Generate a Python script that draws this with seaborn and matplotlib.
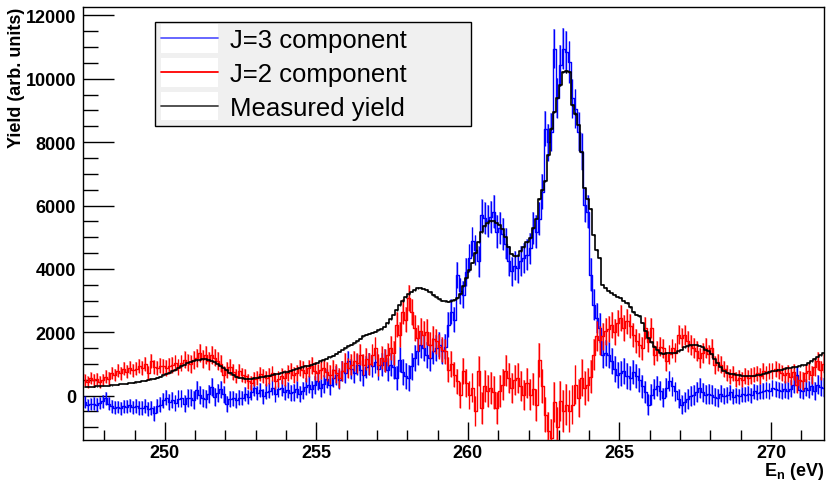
import numpy as np
import pandas as pd
import matplotlib
matplotlib.use("Agg")
import matplotlib.pyplot as plt
import seaborn as sns
from matplotlib.lines import Line2D
from matplotlib.patches import Rectangle
from matplotlib.legend_handler import HandlerBase

# Neutron energy binning (eV)
e_start = 247.3
bin_width = 0.1

# Measured yield per bin (arb. units)
measured = [
    270, 275, 280, 285, 290, 295, 300,
    300, 310, 320, 340, 350, 360, 370, 380, 395, 410,
    420, 440, 455, 470, 490, 510, 540, 570, 600, 640,
    690, 730, 770, 820, 870, 930, 980, 1030, 1070, 1100,
    1120, 1140, 1150, 1150, 1130, 1100, 1050, 990, 930, 870,
    800, 730, 660, 600, 570, 550, 540, 540, 540, 550,
    560, 575, 590, 610, 630, 650, 670, 690, 710, 740,
    760, 790, 810, 840, 860, 890, 920, 950, 980, 1010,
    1040, 1080, 1120, 1160, 1210, 1260, 1320, 1380, 1440, 1500,
    1560, 1610, 1660, 1720, 1800, 1880, 1920, 1960, 1990, 2020,
    2060, 2100, 2180, 2290, 2420, 2560, 2700, 2850, 2990, 3110,
    3200, 3280, 3340, 3390, 3400, 3380, 3330, 3260, 3180, 3100,
    3040, 3000, 2980, 2970, 2990, 3020, 3080, 3200, 3450, 3700,
    3970, 4200, 4500, 4850, 5150, 5350, 5450, 5500, 5500, 5460,
    5390, 5250, 5000, 4700, 4480, 4400, 4420, 4560, 4700, 4850,
    4960, 5300, 5590, 6220, 6500, 6760, 7600, 8430, 8960, 9400,
    9800, 10220, 10230, 10220, 9170, 8900, 8540, 7700, 6540, 6200,
    5900, 5080, 4600, 4340, 3500, 3400, 3300, 3230, 3180, 3120,
    3080, 3000, 2920, 2800, 2640, 2550, 2510, 2300, 2050, 1820,
    1680, 1550, 1440, 1340, 1320, 1330, 1350, 1340, 1360, 1400,
    1450, 1520, 1560, 1590, 1610, 1600, 1570, 1520, 1450, 1400,
    1300, 1150, 1030, 900, 780, 720, 690, 670, 650, 640,
    625, 620, 615, 620, 630, 650, 660, 680, 700, 740,
    780, 790, 800, 820, 840, 860, 870, 890, 910, 930,
    960, 980, 1020, 1080, 1150, 1220, 1280, 1340,
]

# J=3 spin-group component per bin
j3_component = [
    -200, -300, -260, -250, -280, -230, -180,
    -90, -250, -340, -380, -360, -400, -330, -350, -300, -370,
    -330, -380, -400, -330, -420, -380, -560, -330, -280, -150,
    -60, -200, -150, -230, -100, -90, -250, -80, -60, -150,
    180, 10, -80, -100, 50, 280, -50, 80, 200, 40,
    -270, -100, -80, -150, -60, -70, 60, -50, 100, 230,
    80, 180, -20, 130, 160, 250, 50, 200, 240, 100,
    180, 80, 100, 200, 50, 160, 280, 350, 200, 330,
    470, 250, 380, 540, 320, 560, 650, 500, 780, 700,
    1090, 850, 720, 980, 800, 650, 900, 1000, 930, 1050,
    850, 980, 1100, 820, 980, 900, 560, 1130, 750, 620,
    560, 920, 1190, 1400, 1610, 1500, 1290, 1200, 1400, 1500,
    1610, 1400, 1550, 2240, 2650, 2400, 3810, 3300, 3180, 3900,
    4340, 4870, 4600, 4240, 5700, 5600, 5500, 5650, 5810, 5180,
    5280, 5100, 4800, 4240, 3920, 4100, 4020, 4250, 4340, 4450,
    4650, 5280, 5180, 5590, 6440, 8430, 8000, 8330, 10950, 9380,
    10430, 10950, 10840, 10530, 9380, 9060, 8330, 7700, 6020, 5810,
    3810, 2870, 2450, 2130, 1290, 1350, 1290, 1090, 850, 660,
    700, 780, 620, 560, 750, 620, 500, 300, 120, -280,
    30, 200, 300, 150, -70, 250, 460, 300, 140, -100,
    -280, -200, -120, 0, 30, 120, 240, 100, 30, 50,
    30, -40, -70, 60, -20, 30, 100, -30, 10, -20,
    40, 30, 60, 10, 140, 90, 120, 140, 180, 140,
    240, 200, 180, 140, 200, 160, 220, 350, 660, 190,
    150, 250, 190, 300, 150, 350, 280, 250,
]

# J=2 spin-group component per bin
j2_component = [
    500, 420, 560, 480, 520, 430, 500,
    600, 540, 710, 650, 780, 700, 850, 760, 880, 800,
    850, 930, 870, 1000, 710, 1090, 900, 870, 950, 930,
    870, 930, 980, 1030, 900, 1030, 1130, 1050, 1000, 1130,
    1200, 1340, 1150, 1290, 1080, 1290, 1200, 1090, 1000, 660,
    820, 900, 750, 620, 780, 650, 620, 450, 400, 520,
    560, 680, 620, 550, 620, 700, 460, 530, 620, 560,
    700, 780, 650, 720, 870, 820, 700, 870, 950, 780,
    710, 820, 870, 760, 660, 820, 700, 560, 780, 1030,
    870, 980, 1100, 1030, 1290, 980, 1150, 1000, 1290, 1500,
    980, 1200, 1100, 1290, 1500, 1350, 2240, 1920, 2650, 2400,
    3070, 2650, 2130, 1820, 2030, 1920, 2000, 1610, 1800, 1710,
    1550, 1450, 1400, 820, 1000, 660, 450, 30, 780, 400,
    30, 250, -480, 780, -390, 300, 140, 240, 100, -390,
    140, 350, 780, 560, 240, 500, 560, 300, 30, 400,
    30, 200, -300, 1130, 300, -600, -1110, -1330, -200, -1000,
    -170, -480, -280, -490, -280, 350, -70, 560, 240, 350,
    600, 1290, 1880, 1750, 1880, 2030, 2100, 2240, 2000, 2300,
    2450, 2130, 2340, 2200, 1920, 1710, 1600, 1500, 2130, 1700,
    2130, 1290, 1400, 1550, 1500, 1090, 1300, 1500, 1350, 1920,
    1820, 1920, 1710, 1600, 1500, 1400, 1190, 1350, 1500, 1300,
    1500, 980, 1050, 980, 850, 710, 600, 700, 500, 560,
    500, 620, 560, 620, 660, 700, 620, 780, 700, 780,
    780, 850, 780, 720, 660, 700, 600, 750, 350, 500,
    460, 700, 780, 650, 900, 1090, 800, 1000,
]

labels = ["J=3 component", "J=2 component", "Measured yield"]
x_ticks = [250, 255, 260, 265, 270]
y_ticks = [0, 2000, 4000, 6000, 8000, 10000, 12000]

sns.set_theme(style="white")
plt.rcParams["font.family"] = ["Liberation Sans", "DejaVu Sans"]
plt.rcParams["mathtext.fontset"] = "custom"
plt.rcParams["mathtext.rm"] = "Liberation Sans"
plt.rcParams["mathtext.bf"] = "Liberation Sans:bold"
plt.rcParams["text.color"] = "black"
plt.rcParams["axes.labelcolor"] = "black"
plt.rcParams["xtick.color"] = "black"
plt.rcParams["ytick.color"] = "black"

fig = plt.figure(figsize=(8.26, 4.81), dpi=100)
fig.patch.set_facecolor("white")
ax = fig.add_axes([83 / 826, 1 - 441 / 481, (824 - 83) / 826, (441 - 8) / 481])
ax.set_facecolor("white")

meas = np.asarray(measured, float)


def draw_hist(values, color, err, boxes=True, lw=1.0):
    values = np.asarray(values, float)
    n = len(values)
    centers = e_start + bin_width * (np.arange(n) + 0.5)
    df = pd.DataFrame({"energy": centers, "value": values})
    if boxes:
        ax.bar(centers, 2 * err, bottom=values - err, width=0.6 * bin_width,
               color=color, alpha=0.35, linewidth=0, zorder=2)
    sns.lineplot(data=df, x="energy", y="value", estimator=None, sort=False,
                 drawstyle="steps-mid", color=color, linewidth=lw, ax=ax,
                 zorder=3)
    ax.vlines(centers, values - err, values + err, color=color,
              linewidth=1.0, zorder=3)


# counting-statistics uncertainties
err_components = 100 + 5.5 * np.sqrt(np.clip(meas, 0, None))
err_measured = 0.4 * np.sqrt(np.clip(meas, 0, None))

draw_hist(j3_component, "#0000ff", err_components[:len(j3_component)])
draw_hist(j2_component, "#ff0000", err_components[:len(j2_component)])
draw_hist(measured, "black", err_measured, boxes=False, lw=1.2)

ax.set_xlim(247.3, 271.75)
ax.set_ylim(-1400, 12265)
ax.set_xticks(x_ticks)
ax.set_yticks(y_ticks)
ax.set_xticks(np.arange(248, 272, 1), minor=True)
ax.set_yticks(np.arange(-1000, 12001, 500), minor=True)
ax.set_xlabel("")
ax.set_ylabel("")

for side in ["left", "bottom", "right", "top"]:
    ax.spines[side].set_visible(True)
    ax.spines[side].set_color("black")
    ax.spines[side].set_linewidth(1.0)

ax.tick_params(axis="both", which="both", direction="in", colors="black",
               bottom=True, left=True, top=False, right=False,
               labelsize=13, width=1.0)
ax.tick_params(axis="y", which="major", length=22, pad=5)
ax.tick_params(axis="y", which="minor", length=11)
ax.tick_params(axis="x", which="major", length=13, pad=3)
ax.tick_params(axis="x", which="minor", length=7)
for lab in ax.get_xticklabels() + ax.get_yticklabels():
    lab.set_fontweight("bold")
    lab.set_color("black")

fig.text(17 / 826, 1 - 8 / 481, "Yield (arb. units)", rotation=90,
         ha="center", va="top", fontsize=13, fontweight="bold", color="black")
fig.text(824 / 826, 1 - 476 / 481, r"$\mathbf{E_{n}}$ (eV)",
         ha="right", va="baseline", fontsize=13, fontweight="bold",
         color="black")


class BoxedLine(HandlerBase):
    def create_artists(self, legend, orig_handle, xdescent, ydescent,
                       width, height, fontsize, trans):
        bg = Rectangle((-xdescent, -ydescent - 0.3 * height), width,
                       1.6 * height, facecolor="white", edgecolor="none",
                       transform=trans)
        ln = Line2D([-xdescent, -xdescent + width],
                    [0.5 * height - ydescent] * 2,
                    color=orig_handle.get_color(), lw=1.3, transform=trans)
        return [bg, ln]


handles = [Line2D([], [], color=c) for c in ["#5a5aff", "#ff0000", "#444444"]]
leg = fig.legend(handles, labels, loc="upper left",
                 bbox_to_anchor=(155 / 826, 1 - 126 / 481, 316 / 826, 103 / 481),
                 mode="expand", borderaxespad=0, fontsize=18.5,
                 handler_map={Line2D: BoxedLine()}, handlelength=2.2,
                 handletextpad=0.47, labelspacing=0.38, borderpad=0.25,
                 fancybox=False, frameon=True, labelcolor="black")
frame = leg.get_frame()
frame.set_facecolor("#f0f0f0")
frame.set_edgecolor("black")
frame.set_linewidth(1.0)
frame.set_alpha(1)

fig.savefig("out.png", dpi=100)
